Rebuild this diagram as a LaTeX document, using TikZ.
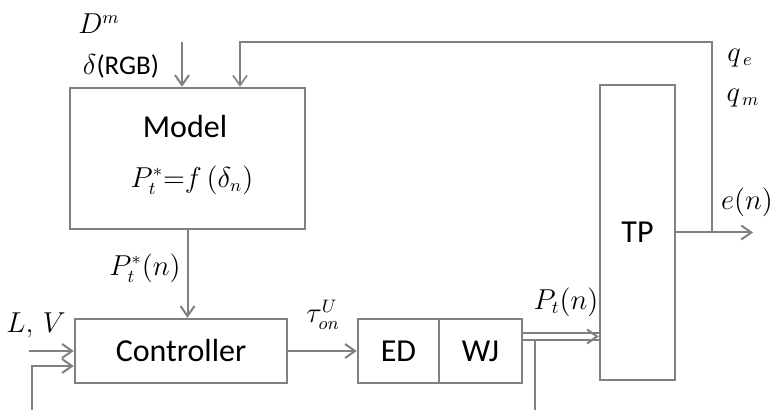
\documentclass[tikz,border=0pt]{standalone}
\usepackage{fontspec}
\setmainfont{Carlito}
\usetikzlibrary{positioning,arrows.meta}

\begin{document}
\begin{tikzpicture}[x=0.5pt,y=-0.5pt,>={Straight Barb[length=5pt,width=7pt]},
  blk/.style={draw=black!50,line width=1.2pt,inner sep=0pt,font=\fontsize{16}{19}\selectfont},
  sig/.style={draw=black!50,line width=1pt},
  lbl/.style={font=\fontsize{13.5}{16}\selectfont,inner sep=1pt}]
\useasboundingbox (0,0) rectangle (770,410);
% blocks
\node[blk,minimum width=117.5pt,minimum height=70.5pt] (model) at (187.5,158.5) {};
\node[font=\fontsize{16}{19}\selectfont] (mname) at (185,127) {Model};
\node[lbl] (mfun) at (192,180) {$P_t^{*}{=}f\,(\delta_n)$};
\node[blk,minimum width=106pt,minimum height=32pt] (ctrl) at (181,351) {Controller};
\node[blk,minimum width=40.5pt,minimum height=32pt] (ed) at (398.5,351) {ED};
\node[blk,minimum width=41.5pt,minimum height=32pt] (wj) at (480.5,351) {WJ};
\node[blk,minimum width=37.5pt,minimum height=147.5pt] (tp) at (637.5,232.5) {TP};
% free ends
\coordinate (dm) at (182,42);
\coordinate (fbtop) at (712,42);
\coordinate (fbin) at (240,42);
\coordinate (eout) at (753,232.5);
\coordinate (lv) at (29,351);
\coordinate (cbot) at (32,410);
\coordinate (pbot) at (535,410);
\coordinate (wjup) at ([yshift=9pt]wj.east);
\coordinate (wjlo) at ([yshift=5.5pt]wj.east);
\coordinate (wjmid) at ([yshift=7.25pt]wj.east);
% connectors
\draw[sig,->] (dm) -- (dm |- model.north);
\draw[sig,->] (tp.east) -- (eout);
\draw[sig,line width=0.8pt,->] (tp.east -| fbtop) -- (fbtop) -- (fbin) -- (fbin |- model.north);
\draw[sig,->] (model.south) -- (model.south |- ctrl.north);
\draw[sig,->] (lv) -- (ctrl.west);
\draw[sig,->] (cbot) |- ([yshift=-7.5pt]ctrl.west);
\draw[sig,->] (ctrl.east) -- (ed.west);
\draw[sig] (wjup) -- (wjup -| tp.west);
\draw[sig] (wjlo) -- (wjlo -| tp.west);
\draw[sig,->] ([xshift=-1pt]wjmid -| tp.west) -- (wjmid -| tp.west);
\draw[sig] (pbot) -- (pbot |- wjlo);
% labels
\node[lbl] (ldm) at (99,24) {$D^{m}$};
\node[lbl] (lrgb) at (121,66) {$\delta$(RGB)};
\node[lbl] (lqe) at (740,58) {$q_{\,e}$};
\node[lbl] (lqm) at (743,98) {$q_{\,m}$};
\node[lbl] (len) at (747,202) {$e(n)$};
\node[lbl] (lpt) at (566,302) {$P_t(n)$};
\node[lbl] (ltau) at (323,315) {$\tau_{on}^{U}$};
\node[lbl] (lpst) at (145,268) {$P_t^{*}(n)$};
\node[lbl] (llv) at (36,325) {$L,\,V$};
\end{tikzpicture}
\end{document}
